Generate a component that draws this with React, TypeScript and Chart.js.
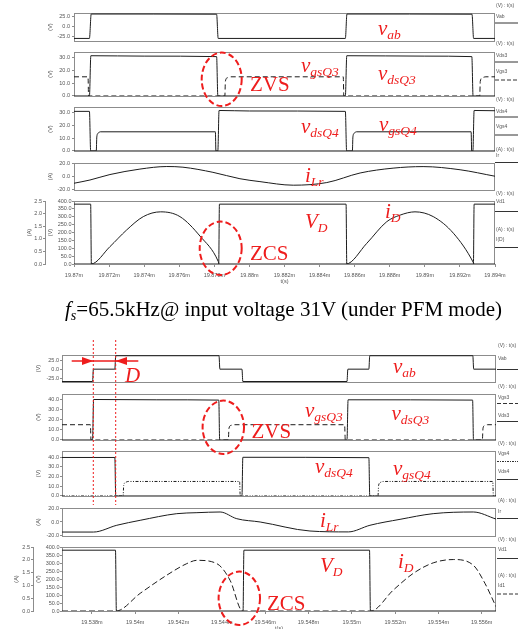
import { useEffect, useRef } from "react";
import { Chart, registerables } from "chart.js";

Chart.register(...registerables);

// ===================== TOP FIGURE (fs = 65.5 kHz, Vin = 31 V) — time in ms =====================
const topTimeTicks = [19.87, 19.872, 19.874, 19.876, 19.878, 19.88, 19.882, 19.884, 19.886, 19.888, 19.89, 19.892, 19.894];
const topTimeLabels = ["19.87m", "19.872m", "19.874m", "19.876m", "19.878m", "19.88m", "19.882m", "19.884m", "19.886m", "19.888m", "19.89m", "19.892m", "19.894m"];

const topVabT = [19.87, 19.87088, 19.87098, 19.87813, 19.87822, 19.88547, 19.88556, 19.89269, 19.89278, 19.894];
const topVabV = [-30, -30, 31.5, 31, -30, -30, 31.5, 31, -30, -30];

const topVdsQ3T = [19.87, 19.87088, 19.87096, 19.874, 19.87813, 19.8782, 19.88547, 19.88555, 19.89, 19.89268, 19.89275, 19.894];
const topVdsQ3V = [0, 0, 31.5, 31.2, 30.8, 0, 0, 31.5, 31.2, 30.8, 0, 0];

const topVgsQ3T = [19.87, 19.8708, 19.87083, 19.8786, 19.87863, 19.87875, 19.87895, 19.88535, 19.88538, 19.89313, 19.89316, 19.89328, 19.89348, 19.894];
const topVgsQ3V = [15, 15, 0, 0, 11.5, 14.3, 15, 15, 0, 0, 11.5, 14.3, 15, 15];

const topVdsQ4T = [19.87, 19.87088, 19.87095, 19.8782, 19.87827, 19.88, 19.88547, 19.88554, 19.89274, 19.89281, 19.894];
const topVdsQ4V = [31, 31, 0, 0, 31.7, 31.3, 31, 0, 0, 31.7, 31.5];

const topVgsQ4T = [19.87, 19.87127, 19.8713, 19.87138, 19.8715, 19.87806, 19.87809, 19.88587, 19.8859, 19.88598, 19.8861, 19.89264, 19.89267, 19.894];
const topVgsQ4V = [0, 0, 11, 14, 15, 15, 0, 0, 11, 14, 15, 15, 0, 0];

const topILrT = [19.87, 19.87091, 19.87205, 19.87376, 19.87529, 19.87621, 19.87792, 19.87946, 19.8806, 19.8825, 19.88441, 19.88631, 19.88819, 19.8899, 19.89201, 19.894];
const topILrV = [-10, -5.2, 2.9, 11, 14.8, 13.8, 6.2, -3.3, -7.6, -12.9, -9, 5.2, 12.4, 14.7, 10, 0.4];

const topIDT = [19.87, 19.87097, 19.87205, 19.873, 19.87395, 19.87494, 19.87604, 19.87718, 19.87823, 19.87827, 19.88551, 19.88669, 19.88783, 19.88859, 19.88944, 19.89048, 19.89163, 19.89277, 19.8928, 19.894];
const topIDV = [0, 0, 0.69, 1.35, 1.88, 2.07, 1.88, 1.11, 0.09, 0, 0, 0.82, 1.68, 1.94, 2.07, 1.88, 1.22, 0.05, 0, 0];

const topVDT = [19.87, 19.87095, 19.87099, 19.87825, 19.87829, 19.88551, 19.88555, 19.89277, 19.89281, 19.894];
const topVDV = [380, 380, 0, 0, 380, 380, 0, 0, 380, 380];

// ===================== BOTTOM FIGURE — time in ms =====================
const botTimeTicks = [19.538, 19.54, 19.542, 19.544, 19.546, 19.548, 19.55, 19.552, 19.554, 19.556];
const botTimeLabels = ["19.538m", "19.54m", "19.542m", "19.544m", "19.546m", "19.548m", "19.55m", "19.552m", "19.554m", "19.556m"];

const botVabT = [19.53662, 19.53803, 19.53807, 19.53906, 19.5391, 19.54387, 19.54391, 19.54493, 19.54497, 19.54978, 19.54982, 19.55079, 19.55083, 19.55559, 19.55563, 19.55666];
const botVabV = [-34, -34, 0, 0, 37, 37, 0, 0, -34, -34, 0, 0, 37, 37, 0, 0];

const botVgsQ3T = [19.53662, 19.53793, 19.53796, 19.5443, 19.54433, 19.54442, 19.54455, 19.54967, 19.5497, 19.55603, 19.55606, 19.55614, 19.55627, 19.55666];
const botVgsQ3V = [15, 15, 0, 0, 11.5, 14.3, 15, 15, 0, 0, 11.5, 14.3, 15, 15];

const botVdsQ3T = [19.53662, 19.53803, 19.53808, 19.541, 19.54386, 19.5439, 19.54978, 19.54983, 19.55558, 19.55562, 19.55666];
const botVdsQ3V = [0, 0, 39.8, 39.5, 39.2, 0, 0, 39.5, 39.2, 0, 0];

const botVdsQ4T = [19.53662, 19.53906, 19.5391, 19.54493, 19.54497, 19.55079, 19.55083, 19.55666];
const botVdsQ4V = [39.8, 39.8, 0, 0, 40, 39.6, 0, 0];

const botVgsQ4T = [19.53662, 19.53944, 19.53947, 19.53955, 19.53969, 19.54482, 19.54485, 19.55121, 19.55124, 19.55132, 19.55146, 19.55651, 19.55654, 19.55666];
const botVgsQ4V = [0, 0, 11, 14, 15, 15, 0, 0, 11, 14, 15, 15, 0, 0];

const botILrT = [19.53662, 19.53807, 19.53915, 19.54023, 19.54192, 19.54285, 19.54392, 19.54469, 19.54577, 19.54807, 19.54984, 19.55084, 19.55223, 19.55376, 19.55561, 19.55666];
const botILrV = [-14.4, -14.4, -4.7, 2.4, 11.9, 13.3, 14.3, 4.7, 0, -12.9, -14.2, -4.7, 3.8, 11.9, 14.3, 4.2];

const botIDT = [19.53662, 19.53911, 19.54023, 19.54146, 19.54238, 19.54285, 19.54377, 19.54438, 19.54496, 19.55088, 19.55192, 19.55284, 19.55376, 19.55469, 19.55561, 19.55615, 19.55666];
const botIDV = [0, 0, 0.69, 1.4, 1.85, 1.98, 1.85, 1.2, 0, 0, 0.82, 1.47, 1.88, 2.01, 1.79, 1.08, 0.17];

const botVDT = [19.53662, 19.53909, 19.53913, 19.54498, 19.54502, 19.55082, 19.55086, 19.55666];
const botVDV = [380, 380, 0, 0, 380, 380, 0, 0];

// ===================== axis tick values =====================
const vabTicks = [-25, 0, 25];
const gate30Ticks = [0, 10, 20, 30];
const gate40Ticks = [0, 10, 20, 30, 40];
const currentTicks = [-20, 0, 20];
const diodeVTicks = [0, 50, 100, 150, 200, 250, 300, 350, 400];
const diodeATicks = [0, 0.5, 1, 1.5, 2, 2.5];

// ===================== chart building =====================
const TICK_FONT = { family: "Liberation Sans, Arial, sans-serif", size: 5.5, lineHeight: 1.1 };
const TICK_COLOR = "#555";
const AXIS_COLOR = "#8c8c8c";
const LINE_COLOR = "#1c1c1c";

interface YAxisSpec {
  id: string; min: number; max: number; ticks: number[]; title: string;
  width: number; titlePad: number; tickPad: number; tickLen: number; weight: number;
}
interface SeriesSpec { t: number[]; v: number[]; axis: string; dash?: number[] }
interface PanelSpec {
  plotTop: number; plotBottom: number; plotLeft: number; plotRight: number;
  xMin: number; xMax: number; xTicks: number[]; xLabels: string[]; showX: boolean;
  yAxes: YAxisSpec[]; series: SeriesSpec[];
}

const PAD_TOP = 5;
const PAD_BOTTOM = 4;
const X_AXIS_H = 22;

const framePlugin = {
  id: "frame",
  beforeDatasetsDraw(chart: any) {
    const { ctx, chartArea: a } = chart;
    ctx.save();
    ctx.strokeStyle = AXIS_COLOR;
    ctx.lineWidth = 1;
    ctx.strokeRect(Math.round(a.left) + 0.5, Math.round(a.top) + 0.5, Math.round(a.right - a.left) - 1, Math.round(a.bottom - a.top));
    ctx.restore();
  },
};

function buildConfig(p: PanelSpec): any {
  const scales: any = {
    x: {
      type: "linear",
      min: p.xMin,
      max: p.xMax,
      display: p.showX,
      afterBuildTicks: (s: any) => { s.ticks = p.xTicks.map((v) => ({ value: v })); },
      afterFit: (s: any) => { s.height = p.showX ? X_AXIS_H : 0; },
      ticks: {
        autoSkip: false, maxRotation: 0, minRotation: 0, font: TICK_FONT, color: TICK_COLOR, padding: 5,
        callback: (_v: any, i: number) => p.xLabels[i],
      },
      grid: { display: true, drawOnChartArea: false, tickLength: 3, color: AXIS_COLOR },
      border: { display: false },
      title: { display: p.showX, text: "t(s)", font: TICK_FONT, color: TICK_COLOR, padding: { top: 0, bottom: 1 } },
    },
  };
  p.yAxes.forEach((a) => {
    scales[a.id] = {
      type: "linear",
      position: "left",
      weight: a.weight,
      min: a.min,
      max: a.max,
      afterBuildTicks: (s: any) => { s.ticks = a.ticks.map((v) => ({ value: v })); },
      afterFit: (s: any) => { s.width = a.width; },
      ticks: { autoSkip: false, font: TICK_FONT, color: TICK_COLOR, padding: a.tickPad, callback: (v: any) => Number(v).toFixed(1) },
      grid: { display: true, drawOnChartArea: false, tickLength: a.tickLen, color: AXIS_COLOR },
      border: { display: true, color: AXIS_COLOR },
      title: { display: true, text: a.title, font: TICK_FONT, color: TICK_COLOR, padding: { top: a.titlePad, bottom: 0 } },
    };
  });
  return {
    type: "line",
    data: {
      datasets: p.series.map((s) => ({
        data: s.t.map((t, i) => ({ x: t, y: s.v[i] })),
        yAxisID: s.axis,
        borderColor: LINE_COLOR,
        borderWidth: 1,
        borderDash: s.dash ?? [],
        pointRadius: 0,
        fill: false,
        cubicInterpolationMode: "monotone",
      })),
    },
    options: {
      responsive: false,
      animation: false,
      events: [],
      layout: { padding: { left: 0, top: PAD_TOP, right: 518 - p.plotRight, bottom: p.showX ? 0 : PAD_BOTTOM } },
      plugins: { legend: { display: false }, tooltip: { enabled: false } },
      scales,
    },
    plugins: [framePlugin],
  };
}

function Panel({ spec }: { spec: PanelSpec }) {
  const ref = useRef<HTMLCanvasElement>(null);
  const h = spec.plotBottom - spec.plotTop + PAD_TOP + (spec.showX ? X_AXIS_H : PAD_BOTTOM);
  useEffect(() => {
    const chart = new Chart(ref.current as HTMLCanvasElement, buildConfig(spec));
    return () => chart.destroy();
  }, []);
  return (
    <canvas
      ref={ref}
      width={518}
      height={h}
      style={{ position: "absolute", left: 0, top: spec.plotTop - PAD_TOP, width: 518, height: h }}
    />
  );
}

const yAx = (id: string, min: number, max: number, ticks: number[], title: string, width: number, titlePad: number, tickPad: number, weight = 0): YAxisSpec =>
  ({ id, min, max, ticks, title, width, titlePad, tickPad, tickLen: 2, weight });

const topBase = { plotLeft: 74, plotRight: 495, xMin: 19.87, xMax: 19.894, xTicks: topTimeTicks, xLabels: topTimeLabels };
const botBase = { plotLeft: 62, plotRight: 496, xMin: 19.53662, xMax: 19.55666, xTicks: botTimeTicks, xLabels: botTimeLabels };

const topPanels: PanelSpec[] = [
  { ...topBase, plotTop: 13, plotBottom: 42, showX: false, yAxes: [yAx("y", -36.4, 34, vabTicks, "(V)", 74, 47, 2)],
    series: [{ t: topVabT, v: topVabV, axis: "y" }] },
  { ...topBase, plotTop: 52, plotBottom: 97, showX: false, yAxes: [yAx("y", 0, 34.4, gate30Ticks, "(V)", 74, 47, 2)],
    series: [{ t: topVdsQ3T, v: topVdsQ3V, axis: "y" }, { t: topVgsQ3T, v: topVgsQ3V, axis: "y", dash: [5, 3] }] },
  { ...topBase, plotTop: 107, plotBottom: 152, showX: false, yAxes: [yAx("y", 0, 34.4, gate30Ticks, "(V)", 74, 47, 2)],
    series: [{ t: topVdsQ4T, v: topVdsQ4V, axis: "y" }, { t: topVgsQ4T, v: topVgsQ4V, axis: "y" }] },
  { ...topBase, plotTop: 163, plotBottom: 191, showX: false, yAxes: [yAx("y", -20, 20, currentTicks, "(A)", 74, 47, 2)],
    series: [{ t: topILrT, v: topILrV, axis: "y" }] },
  { ...topBase, plotTop: 201, plotBottom: 264, showX: true,
    yAxes: [yAx("yA", 0, 2.5, diodeATicks, "(A)", 45, 26, 1, 1), yAx("yV", 0, 400, diodeVTicks, "(V)", 29, 2.7, 0.5, 0)],
    series: [{ t: topVDT, v: topVDV, axis: "yV" }, { t: topIDT, v: topIDV, axis: "yA" }] },
];

const botPanels: PanelSpec[] = [
  { ...botBase, plotTop: 355, plotBottom: 382, showX: false, yAxes: [yAx("y", -35.3, 39, vabTicks, "(V)", 62, 35, 1)],
    series: [{ t: botVabT, v: botVabV, axis: "y" }] },
  { ...botBase, plotTop: 394, plotBottom: 440, showX: false, yAxes: [yAx("y", 0, 45.2, gate40Ticks, "(V)", 62, 35, 1)],
    series: [{ t: botVdsQ3T, v: botVdsQ3V, axis: "y" }, { t: botVgsQ3T, v: botVgsQ3V, axis: "y", dash: [5, 3] }] },
  { ...botBase, plotTop: 451, plotBottom: 496, showX: false, yAxes: [yAx("y", 0, 46.5, gate40Ticks, "(V)", 62, 35, 1)],
    series: [{ t: botVdsQ4T, v: botVdsQ4V, axis: "y" }, { t: botVgsQ4T, v: botVgsQ4V, axis: "y", dash: [3, 1.5, 1, 1.5, 1, 1.5] }] },
  { ...botBase, plotTop: 508, plotBottom: 536, showX: false, yAxes: [yAx("y", -20, 20, currentTicks, "(A)", 62, 35, 1)],
    series: [{ t: botILrT, v: botILrV, axis: "y" }] },
  { ...botBase, plotTop: 547, plotBottom: 611, showX: true,
    yAxes: [yAx("yA", 0, 2.5, diodeATicks, "(A)", 33, 13.7, 1, 1), yAx("yV", 0, 400, diodeVTicks, "(V)", 29, 2.4, 0.5, 0)],
    series: [{ t: botVDT, v: botVDV, axis: "yV" }, { t: botIDT, v: botIDV, axis: "yA", dash: [6, 3] }] },
];

// ===================== overlay: legends & annotations =====================
const RED = "#ee1d1d";
type Leg = { y: number; text: string; line?: string | null };
const topLegend: Leg[] = [
  { y: 5.5, text: "(V) : t(s)" }, { y: 17, text: "Vab" }, { y: 23, text: "", line: "solid" },
  { y: 43.5, text: "(V) : t(s)" }, { y: 55.5, text: "Vds3" }, { y: 62, text: "", line: "solid" }, { y: 71.5, text: "Vgs3" }, { y: 80, text: "", line: "dash" },
  { y: 99.5, text: "(V) : t(s)" }, { y: 112, text: "Vds4" }, { y: 117, text: "", line: "solid" }, { y: 126.5, text: "Vgs4" }, { y: 135, text: "", line: "solid" },
  { y: 149.5, text: "(A) : t(s)" }, { y: 156, text: "Ir" }, { y: 162.5, text: "", line: "solid" },
  { y: 193.5, text: "(V) : t(s)" }, { y: 201.5, text: "Vd1" }, { y: 211.5, text: "", line: "solid" },
  { y: 229.5, text: "(A) : t(s)" }, { y: 239.5, text: "I(D)" }, { y: 247.5, text: "", line: "solid" },
];
const botLegend: Leg[] = [
  { y: 346, text: "(V) : t(s)" }, { y: 358.5, text: "Vab" }, { y: 369.5, text: "", line: "solid" },
  { y: 386.5, text: "(V) : t(s)" }, { y: 397.5, text: "Vgs3" }, { y: 403.5, text: "", line: "dash" }, { y: 415.5, text: "Vds3" }, { y: 421.5, text: "", line: "solid" },
  { y: 443.5, text: "(V) : t(s)" }, { y: 453.5, text: "Vgs4" }, { y: 461.5, text: "", line: "dot" }, { y: 471.5, text: "Vds4" }, { y: 479.5, text: "", line: "solid" },
  { y: 500.5, text: "(A) : t(s)" }, { y: 511.5, text: "Ir" }, { y: 518.5, text: "", line: "solid" },
  { y: 540, text: "(V) : t(s)" }, { y: 550, text: "Vd1" }, { y: 558.5, text: "", line: "solid" },
  { y: 576, text: "(A) : t(s)" }, { y: 586, text: "Id1" }, { y: 594, text: "", line: "dash" },
];

type Lbl = { x: number; y: number; main: string; sub: string };
const redLabels: Lbl[] = [
  { x: 378, y: 35, main: "v", sub: "ab" },
  { x: 301, y: 71.5, main: "v", sub: "gsQ3" },
  { x: 378, y: 80, main: "v", sub: "dsQ3" },
  { x: 301, y: 133, main: "v", sub: "dsQ4" },
  { x: 379, y: 130.5, main: "v", sub: "gsQ4" },
  { x: 305, y: 181.5, main: "i", sub: "Lr" },
  { x: 305, y: 228, main: "V", sub: "D" },
  { x: 385, y: 218, main: "i", sub: "D" },
  { x: 393, y: 373, main: "v", sub: "ab" },
  { x: 305, y: 416.5, main: "v", sub: "gsQ3" },
  { x: 391.5, y: 420, main: "v", sub: "dsQ3" },
  { x: 315, y: 472.5, main: "v", sub: "dsQ4" },
  { x: 393, y: 475, main: "v", sub: "gsQ4" },
  { x: 320, y: 527, main: "i", sub: "Lr" },
  { x: 320, y: 571.5, main: "V", sub: "D" },
  { x: 398, y: 568, main: "i", sub: "D" },
];
const plainLabels = [
  { x: 250, y: 90.5, text: "ZVS" },
  { x: 250, y: 260, text: "ZCS" },
  { x: 251.5, y: 438, text: "ZVS" },
  { x: 267, y: 610, text: "ZCS" },
];
const ellipses = [
  { cx: 221.7, cy: 79.3, rx: 20, ry: 26.7 },
  { cx: 220.7, cy: 248.3, rx: 21, ry: 26.7 },
  { cx: 223.3, cy: 427.3, rx: 20.7, ry: 26.7 },
  { cx: 239.3, cy: 598.3, rx: 20.7, ry: 26.7 },
];

function Overlay() {
  const legendItems = (items: Leg[], x: number) =>
    items.map((it, i) =>
      it.line ? (
        <line key={i} x1={x - 1} x2={518} y1={it.y} y2={it.y} stroke="#333" strokeWidth={1}
          strokeDasharray={it.line === "dash" ? "4 2" : it.line === "dot" ? "2 1 1 1" : undefined} />
      ) : (
        <text key={i} x={x} y={it.y} fontSize={5} fill="#555" fontFamily="Liberation Sans, Arial, sans-serif" dominantBaseline="middle">{it.text}</text>
      )
    );
  return (
    <svg width={518} height={629} style={{ position: "absolute", left: 0, top: 0, pointerEvents: "none" }}>
      {legendItems(topLegend, 496)}
      {legendItems(botLegend, 498)}
      {ellipses.map((e, i) => (
        <ellipse key={i} cx={e.cx} cy={e.cy} rx={e.rx} ry={e.ry} fill="none" stroke={RED} strokeWidth={2} strokeDasharray="6 3" />
      ))}
      {redLabels.map((l, i) => (
        <text key={i} x={l.x} y={l.y} fill={RED} fontFamily="Liberation Serif, Times New Roman, serif" fontStyle="italic" fontSize={21}>
          {l.main}
          <tspan fontSize={13.5} dy={4}>{l.sub}</tspan>
        </text>
      ))}
      {plainLabels.map((l, i) => (
        <text key={i} x={l.x} y={l.y} fill={RED} fontFamily="Liberation Serif, Times New Roman, serif" fontSize={21}>{l.text}</text>
      ))}
      <line x1={93.3} x2={93.3} y1={340} y2={505} stroke={RED} strokeWidth={1} strokeDasharray="2 2" />
      <line x1={115.7} x2={115.7} y1={340} y2={505} stroke={RED} strokeWidth={1} strokeDasharray="2 2" />
      <line x1={71.7} x2={138.3} y1={361} y2={361} stroke={RED} strokeWidth={1.5} />
      <polygon points="93.3,361 82,357 82,365" fill={RED} />
      <polygon points="115.5,361 127,357 127,365" fill={RED} />
      <text x={125} y={381.5} fill={RED} fontFamily="Liberation Serif, Times New Roman, serif" fontStyle="italic" fontSize={21}>D</text>
      <text x={65} y={316} fill="#000" fontFamily="Liberation Serif, Times New Roman, serif" fontSize={21}>
        <tspan fontStyle="italic">f</tspan>
        <tspan fontStyle="italic" fontSize={14} dy={4}>s</tspan>
        <tspan dy={-4}>=65.5kHz@ input voltage 31V (under PFM mode)</tspan>
      </text>
    </svg>
  );
}

export default function App() {
  return (
    <div style={{ position: "fixed", left: 0, top: 0, width: 518, height: 629, overflow: "hidden", background: "#fff" }}>
      {topPanels.map((p, i) => <Panel key={"t" + i} spec={p} />)}
      {botPanels.map((p, i) => <Panel key={"b" + i} spec={p} />)}
      <Overlay />
    </div>
  );
}
